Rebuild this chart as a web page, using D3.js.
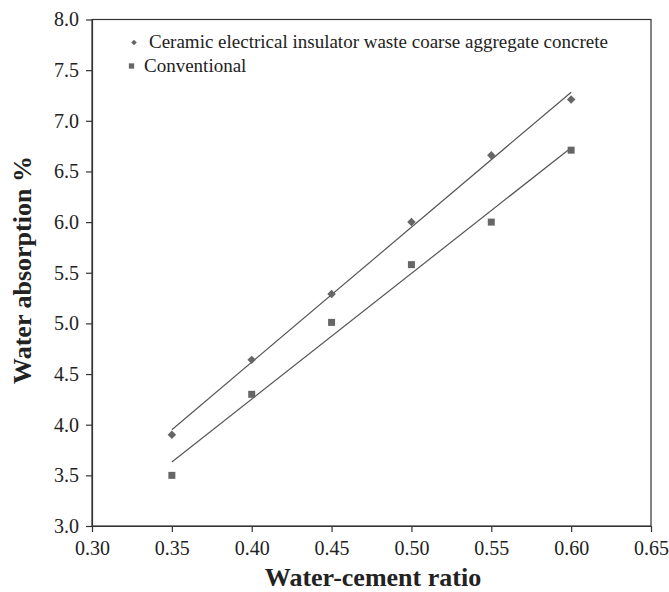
<!DOCTYPE html>
<html>
<head>
<meta charset="utf-8">
<script src="https://cdn.jsdelivr.net/npm/d3@7"></script>
<style>
  html, body { margin: 0; padding: 0; background: #fff; }
  svg { display: block; font-family: "Liberation Serif", "Times New Roman", serif; }
</style>
</head>
<body>
<svg id="chart" width="669" height="592"></svg>
<script>
// Water-cement ratio vs water absorption
const ratios = [0.35, 0.40, 0.45, 0.50, 0.55, 0.60];
const ceramicAbsorption = [3.90, 4.64, 5.29, 6.00, 6.66, 7.21];
const conventionalAbsorption = [3.50, 4.30, 5.01, 5.58, 6.00, 6.71];
const xTicks = [0.30, 0.35, 0.40, 0.45, 0.50, 0.55, 0.60, 0.65];
const yTicks = [3.0, 3.5, 4.0, 4.5, 5.0, 5.5, 6.0, 6.5, 7.0, 7.5, 8.0];
const seriesNames = ["Ceramic electrical insulator waste coarse aggregate concrete", "Conventional"];

const W = 669, H = 592;
const margin = { top: 19.5, right: 18, bottom: 66, left: 92 };
const iw = W - margin.left - margin.right;
const ih = H - margin.top - margin.bottom;

const svg = d3.select("#chart");
const g = svg.append("g").attr("transform", `translate(${margin.left},${margin.top})`);

const x = d3.scaleLinear().domain([0.30, 0.65]).range([0, iw]);
const y = d3.scaleLinear().domain([3.0, 8.0]).range([ih, 0]);

const axisColor = "#333";
const markColor = "#666";
const lineColor = "#555";
const textColor = "#222";

// frame
g.append("rect").attr("x", 0).attr("y", 0).attr("width", iw).attr("height", ih)
  .attr("fill", "none").attr("stroke", axisColor).attr("stroke-width", 1.2);

// axes
const xAxis = g.append("g").attr("transform", `translate(0,${ih})`)
  .call(d3.axisBottom(x).tickValues(xTicks).tickFormat(d3.format(".2f")).tickSize(6).tickSizeOuter(0));
const yAxis = g.append("g")
  .call(d3.axisLeft(y).tickValues(yTicks).tickFormat(d3.format(".1f")).tickSize(6).tickSizeOuter(0));
[xAxis, yAxis].forEach(a => {
  a.select(".domain").attr("stroke", axisColor).attr("stroke-width", 1.2);
  a.selectAll(".tick line").attr("stroke", axisColor).attr("stroke-width", 1.2);
  a.selectAll(".tick text").attr("fill", textColor)
    .style("font-family", "'Liberation Serif', serif").style("font-size", "20px");
});
xAxis.selectAll(".tick text").attr("dy", "0.71em").attr("y", 15);
yAxis.selectAll(".tick text").attr("x", -13);

// axis titles
svg.append("text")
  .attr("x", 373).attr("y", 586)
  .attr("text-anchor", "middle").attr("font-weight", "bold").attr("font-size", 26).attr("fill", textColor)
  .text("Water-cement ratio");
svg.append("text")
  .attr("transform", "translate(31,270) rotate(-90)")
  .attr("text-anchor", "middle").attr("font-weight", "bold").attr("font-size", 26).attr("fill", textColor)
  .text("Water absorption %");

// least-squares trend line over the data
function fit(xs, ys) {
  const mx = d3.mean(xs), my = d3.mean(ys);
  const sxy = d3.sum(xs, (v, i) => (v - mx) * (ys[i] - my));
  const sxx = d3.sum(xs, v => (v - mx) ** 2);
  const b = sxy / sxx;
  return v => my + b * (v - mx);
}

const series = [
  { name: seriesNames[0], values: ceramicAbsorption, rotate: 45, size: 36, legendSize: 16, lx: 0, tx: 15 },
  { name: seriesNames[1], values: conventionalAbsorption, rotate: 0, size: 49, legendSize: 28, lx: -2.5, tx: 10 }
];

series.forEach(s => {
  const f = fit(ratios, s.values);
  const ends = d3.extent(ratios);
  g.append("line")
    .attr("x1", x(ends[0])).attr("y1", y(f(ends[0])))
    .attr("x2", x(ends[1])).attr("y2", y(f(ends[1])))
    .attr("stroke", lineColor).attr("stroke-width", 1.2);
  g.selectAll(null).data(ratios).enter().append("path")
    .attr("d", d3.symbol().type(d3.symbolSquare).size(s.size))
    .attr("transform", (d, i) => `translate(${x(d)},${y(s.values[i])}) rotate(${s.rotate})`)
    .attr("fill", markColor);
});

// legend
const legend = g.append("g").attr("transform", "translate(42,23)");
series.forEach((s, i) => {
  const row = legend.append("g").attr("transform", `translate(0,${i * 23.5})`);
  row.append("path")
    .attr("d", d3.symbol().type(d3.symbolSquare).size(s.legendSize))
    .attr("transform", `translate(${s.lx},0) rotate(${s.rotate})`)
    .attr("fill", markColor);
  row.append("text").attr("x", s.tx).attr("y", 5.5)
    .attr("font-size", 19).attr("fill", textColor).text(s.name);
});
</script>
</body>
</html>
